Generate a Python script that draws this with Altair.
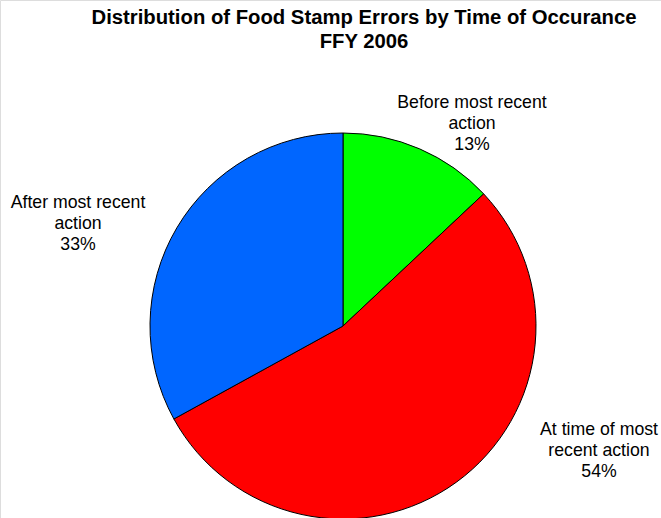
import altair as alt
import pandas as pd

# Error shares by time of occurrence, FFY 2006
categories = ["Before most recent action", "At time of most recent action", "After most recent action"]
label_lines = ["Before most recent\naction", "At time of most\nrecent action", "After most recent\naction"]
percents = [13, 54, 33]
colors = ["#00FF00", "#FF0000", "#0066FF"]

df = pd.DataFrame({
    "category": categories,
    "label": label_lines,
    "pct": percents,
    "idx": list(range(len(categories))),
})

W, H = 661, 518
FONT = "Liberation Sans"

base = alt.Chart(df)

pie = base.mark_arc(radius=193, stroke="black", strokeWidth=1).encode(
    x=alt.value(343),
    y=alt.value(326),
    theta=alt.Theta("pct:Q", stack=True),
    color=alt.Color("category:N", scale=alt.Scale(domain=categories, range=colors), legend=None),
    order=alt.Order("idx:Q", sort="ascending"),
)

# y is the middle of each label's first line
def slice_label(cat, x, y):
    return base.transform_filter(
        alt.datum.category == cat
    ).transform_calculate(
        txt="datum.label + '\\n' + datum.pct + '%'"
    ).mark_text(
        font=FONT, fontSize=17.7, lineBreak="\n", lineHeight=21,
        align="center", baseline="middle", color="black",
    ).encode(x=alt.value(x), y=alt.value(y), text="txt:N")

labels = (
    slice_label(categories[0], 472, 103)
    + slice_label(categories[1], 599, 430)
    + slice_label(categories[2], 78, 203)
)

title = alt.Chart(pd.DataFrame({"t": ["Distribution of Food Stamp Errors by Time of Occurance\nFFY 2006"]})).mark_text(
    font=FONT, fontSize=20.3, fontWeight="bold", lineBreak="\n", lineHeight=24,
    align="center", baseline="middle", color="black",
).encode(x=alt.value(364), y=alt.value(18), text="t:N")

chart = alt.layer(pie, labels, title).properties(
    width=W, height=H, autosize=alt.AutoSizeParams(type="none"), padding=0,
).configure_view(stroke=None).configure(background="white")

chart.save("out.html", embed_options={"renderer": "svg", "actions": False})
